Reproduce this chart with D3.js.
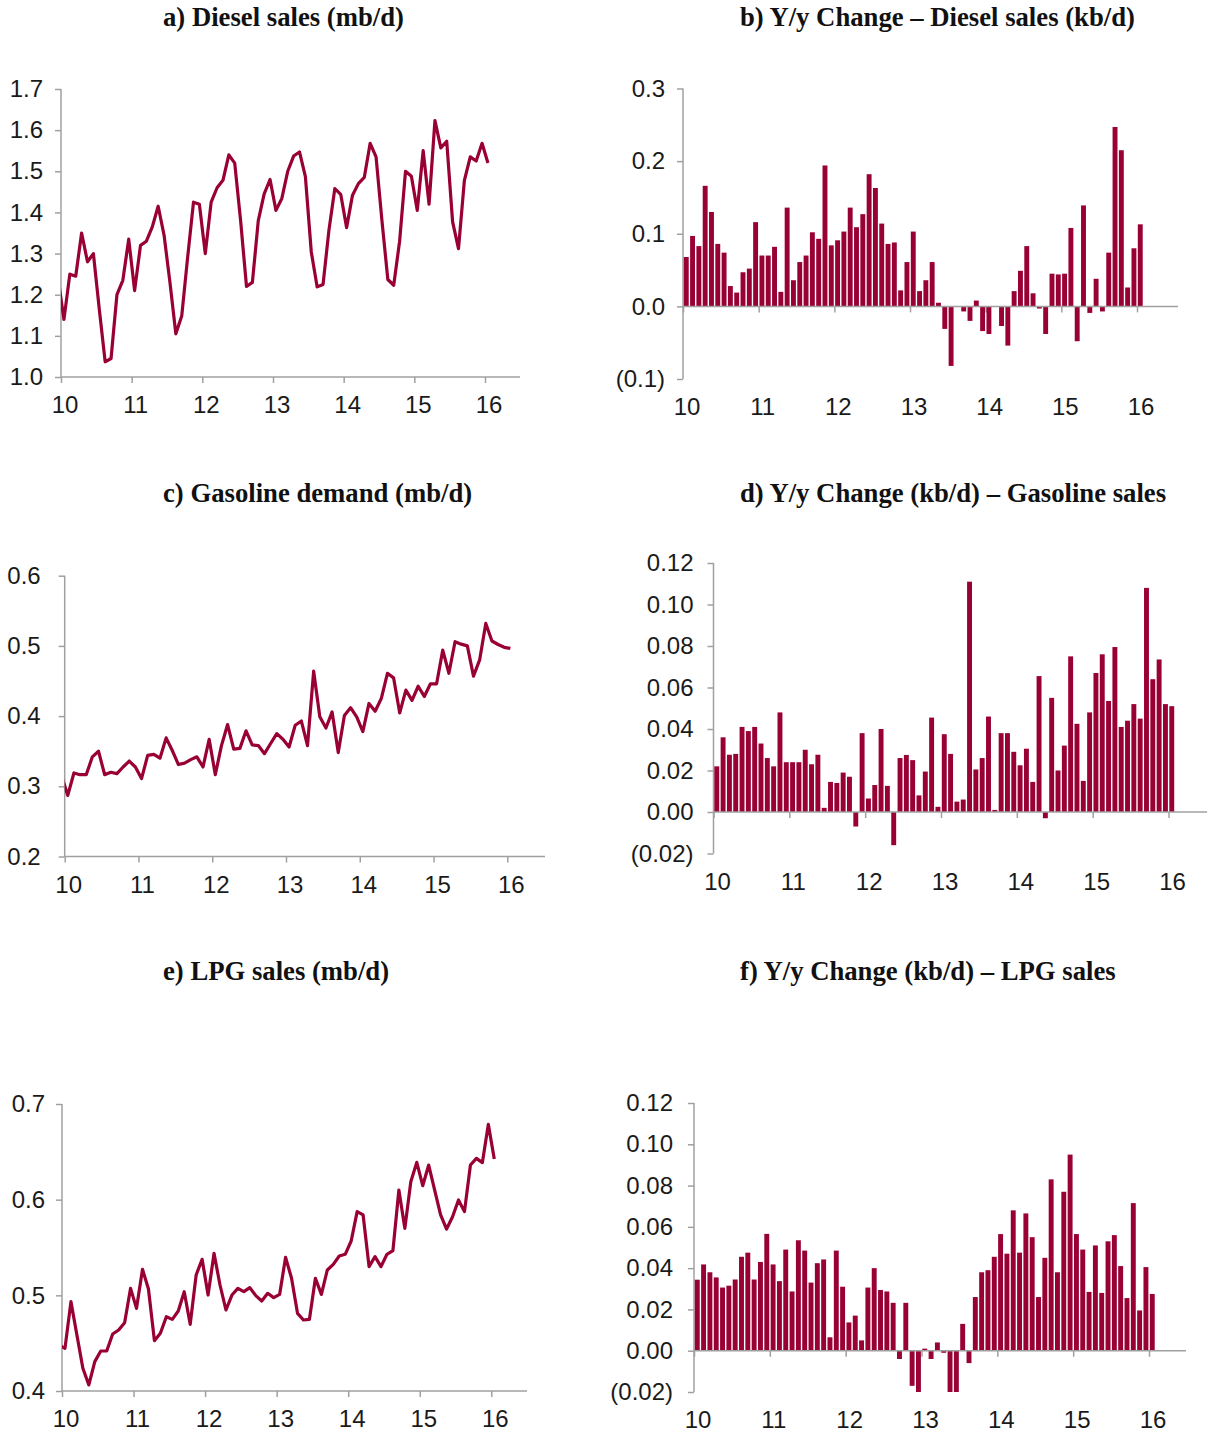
<!DOCTYPE html>
<html>
<head>
<meta charset="utf-8">
<script src="https://cdn.jsdelivr.net/npm/d3@7"></script>
<style>
  body { margin: 0; background: #fff; }
  .tick text, .lbl { font-family: "Liberation Sans", Arial, sans-serif; fill: #1a1a1a; }
  .title { font-family: "Liberation Serif", "Times New Roman", serif; font-weight: bold; fill: #111; }
</style>
</head>
<body>
<svg id="chart" width="1209" height="1433"></svg>
<script>
// x axis labels (years, 20xx)
const yearLabels = [10, 11, 12, 13, 14, 15, 16];

// monthly levels, Dec-09 .. Jan-16 (first point sits left of the axis and is clipped)
const dieselSales = [1.24,
  1.14, 1.25, 1.245, 1.35, 1.28, 1.30, 1.165, 1.037, 1.045, 1.20, 1.235, 1.335,
  1.21, 1.32, 1.33, 1.365, 1.415, 1.345, 1.23, 1.105, 1.148, 1.29, 1.425, 1.42,
  1.30, 1.425, 1.46, 1.478, 1.54, 1.52, 1.38, 1.22, 1.23, 1.38, 1.445, 1.48,
  1.405, 1.434, 1.50, 1.537, 1.547, 1.487, 1.304, 1.219, 1.225, 1.357, 1.458, 1.444,
  1.363, 1.442, 1.47, 1.485, 1.568, 1.535, 1.38, 1.237, 1.223, 1.33, 1.50, 1.488,
  1.405, 1.55, 1.42, 1.623, 1.557, 1.573, 1.377, 1.312, 1.478, 1.535, 1.525, 1.568,
  1.52];

const gasolineDemand = [0.315,
  0.287, 0.319, 0.3165, 0.3165, 0.342, 0.350, 0.3165, 0.32, 0.318, 0.3275, 0.336, 0.3275,
  0.311, 0.344, 0.3455, 0.340, 0.369, 0.351, 0.331, 0.333, 0.338, 0.342, 0.3275, 0.367,
  0.3165, 0.358, 0.388, 0.353, 0.354, 0.379, 0.359, 0.358, 0.3465, 0.361, 0.375, 0.367,
  0.356, 0.387, 0.393, 0.358, 0.464, 0.399, 0.383, 0.406, 0.348, 0.401, 0.412, 0.399,
  0.378, 0.418, 0.407, 0.425, 0.461, 0.4545, 0.4045, 0.437, 0.4225, 0.4425, 0.428, 0.446,
  0.446, 0.494, 0.461, 0.506, 0.5025, 0.500, 0.457, 0.480, 0.532, 0.507, 0.502, 0.498,
  0.4965];

const lpgSales = [0.448,
  0.4446, 0.4934, 0.4585, 0.4237, 0.4063, 0.4307, 0.4418, 0.4418, 0.4596, 0.4638, 0.4714, 0.5073,
  0.4864, 0.5272, 0.5066, 0.4526, 0.4603, 0.4777, 0.4749, 0.4836, 0.5038, 0.4697, 0.5213, 0.5376,
  0.5003, 0.5439, 0.5108, 0.4847, 0.5003, 0.5073, 0.5038, 0.508, 0.4997, 0.4941, 0.5021, 0.4976,
  0.501, 0.5397, 0.5178, 0.4812, 0.4742, 0.4749, 0.5178, 0.501, 0.5265, 0.5324, 0.5411, 0.5429,
  0.5568, 0.5875, 0.584, 0.53, 0.5404, 0.53, 0.5429, 0.5467, 0.6101, 0.57, 0.6188, 0.639,
  0.6146, 0.6362, 0.6101, 0.584, 0.5693, 0.5822, 0.5997, 0.5875, 0.6362, 0.6432, 0.6387, 0.6787,
  0.6425];

// monthly y/y changes, Jan-10 .. Jan-16
const dieselYoY = [
  0.068, 0.097, 0.083, 0.166, 0.130, 0.086, 0.074, 0.028, 0.019, 0.047, 0.052, 0.116,
  0.070, 0.070, 0.082, 0.020, 0.136, 0.036, 0.061, 0.070, 0.102, 0.093, 0.194, 0.084,
  0.091, 0.103, 0.136, 0.109, 0.127, 0.182, 0.163, 0.114, 0.086, 0.088, 0.022, 0.061,
  0.103, 0.021, 0.036, 0.061, 0.005, -0.031, -0.082, 0.000, -0.007, -0.020, 0.008, -0.034,
  -0.038, 0.000, -0.027, -0.054, 0.021, 0.049, 0.083, 0.018, -0.003, -0.038, 0.045, 0.044,
  0.045, 0.108, -0.048, 0.139, -0.009, 0.038, -0.007, 0.074, 0.247, 0.215, 0.026, 0.080,
  0.113];

const gasolineYoY = [
  0.022, 0.036, 0.0276, 0.028, 0.041, 0.039, 0.041, 0.033, 0.026, 0.022, 0.048, 0.024,
  0.024, 0.024, 0.030, 0.023, 0.0276, 0.002, 0.0145, 0.014, 0.019, 0.017, -0.007, 0.038,
  0.0065, 0.013, 0.040, 0.0126, -0.016, 0.026, 0.0275, 0.025, 0.008, 0.0195, 0.0455, 0.0025,
  0.0375, 0.028, 0.005, 0.006, 0.111, 0.0205, 0.026, 0.046, 0.001, 0.038, 0.038, 0.029,
  0.0225, 0.0305, 0.0145, 0.0655, -0.003, 0.055, 0.020, 0.032, 0.075, 0.0425, 0.015, 0.048,
  0.067, 0.076, 0.0535, 0.0795, 0.041, 0.044, 0.052, 0.045, 0.108, 0.064, 0.0735, 0.052,
  0.051];

const lpgYoY = [
  0.0344, 0.0418, 0.038, 0.0355, 0.0306, 0.0315, 0.0345, 0.0455, 0.0475, 0.0345, 0.043, 0.0566,
  0.0418, 0.0337, 0.049, 0.0287, 0.0535, 0.0485, 0.033, 0.0424, 0.0442, 0.0065, 0.0485, 0.031,
  0.0137, 0.017, 0.005, 0.0306, 0.040, 0.0294, 0.0287, 0.0232, -0.004, 0.0232, -0.017, -0.02,
  0.001, -0.004, 0.004, -0.001, -0.02, -0.02, 0.013, -0.006, 0.026, 0.038, 0.039, 0.0455,
  0.0565, 0.047, 0.068, 0.0475, 0.0665, 0.055, 0.026, 0.045, 0.083, 0.038, 0.077, 0.095,
  0.0565, 0.049, 0.0285, 0.051, 0.028, 0.053, 0.056, 0.041, 0.0255, 0.0715, 0.0195, 0.0405,
  0.0275];

// y tick values
const ticksA = [1.0, 1.1, 1.2, 1.3, 1.4, 1.5, 1.6, 1.7];
const ticksB = [-0.1, 0.0, 0.1, 0.2, 0.3];
const ticksC = [0.2, 0.3, 0.4, 0.5, 0.6];
const ticksD = [-0.02, 0.00, 0.02, 0.04, 0.06, 0.08, 0.10, 0.12];
const ticksE = [0.4, 0.5, 0.6, 0.7];
const ticksF = [-0.02, 0.00, 0.02, 0.04, 0.06, 0.08, 0.10, 0.12];

const COLOR = "#990033";
const AXIS = "#a0a0a0";

const svg = d3.select("#chart");

function numFmt(dec) {
    const f = d3.format("." + dec + "f");
    return d => d < -1e-9 ? "(" + f(-d) + ")" : f(Math.abs(d));
}

const panels = [
    { title: "a) Diesel sales (mb/d)", tx: 163, ty: 26, type: "line", data: dieselSales,
      x0: 61, x1: 485, xEnd: 520, yTop: 89, yBot: 377, ticks: ticksA, dec: 1, pad: 12 },
    { title: "b) Y/y Change \u2013 Diesel sales (kb/d)", tx: 740, ty: 26, type: "bar", data: dieselYoY,
      x0: 683, x1: 1137, xEnd: 1178, yTop: 88.5, yBot: 379, ticks: ticksB, dec: 1, pad: 12 },
    { title: "c) Gasoline demand (mb/d)", tx: 163, ty: 502, type: "line", data: gasolineDemand,
      x0: 64.7, x1: 507.3, xEnd: 545, yTop: 575.7, yBot: 856.5, ticks: ticksC, dec: 1, pad: 18 },
    { title: "d) Y/y Change (kb/d) \u2013 Gasoline sales", tx: 740, ty: 502, type: "bar", data: gasolineYoY,
      x0: 713.5, x1: 1168.5, xEnd: 1207, yTop: 563, yBot: 853.5, ticks: ticksD, dec: 2, pad: 14 },
    { title: "e) LPG sales (mb/d)", tx: 163, ty: 980, type: "line", data: lpgSales,
      x0: 62, x1: 491.3, xEnd: 527, yTop: 1104, yBot: 1391, ticks: ticksE, dec: 1, pad: 11 },
    { title: "f) Y/y Change (kb/d) \u2013 LPG sales", tx: 740, ty: 980, type: "bar", data: lpgYoY,
      x0: 694, x1: 1149, xEnd: 1186, yTop: 1103, yBot: 1392, ticks: ticksF, dec: 2, pad: 15 }
];

panels.forEach((p, k) => {
    const g = svg.append("g");

    g.append("text")
        .attr("class", "title")
        .attr("x", p.tx)
        .attr("y", p.ty)
        .style("font-size", "26.7px")
        .text(p.title);

    const x = d3.scaleLinear().domain([10, 16]).range([p.x0, p.x1]);
    const y = d3.scaleLinear()
        .domain([p.ticks[0], p.ticks[p.ticks.length - 1]])
        .range([p.yBot, p.yTop]);

    // y axis
    const yAxis = g.append("g")
        .attr("transform", `translate(${p.x0},0)`)
        .call(d3.axisLeft(y).tickValues(p.ticks).tickFormat(numFmt(p.dec)).tickSize(6).tickPadding(p.pad));
    yAxis.select(".domain").remove();
    yAxis.selectAll("line").attr("stroke", AXIS).attr("stroke-width", 1.5);
    yAxis.selectAll("text").style("font-size", "24px");
    g.append("line")
        .attr("x1", p.x0).attr("x2", p.x0)
        .attr("y1", p.yTop).attr("y2", p.yBot)
        .attr("stroke", AXIS).attr("stroke-width", 1.5);

    // x axis: tick marks on the baseline (zero for bars), labels at the bottom
    const baseY = p.type === "bar" ? y(0) : p.yBot;
    const xAxis = g.append("g")
        .attr("transform", `translate(0,${baseY})`)
        .call(d3.axisBottom(x).tickValues(yearLabels).tickFormat("").tickSize(6));
    xAxis.select(".domain").remove();
    xAxis.selectAll("line").attr("stroke", AXIS).attr("stroke-width", 1.5);

    g.selectAll(".xlbl")
        .data(yearLabels)
        .enter()
        .append("text")
        .attr("class", "lbl")
        .attr("x", d => x(d) + 4)
        .attr("y", p.yBot + 28)
        .attr("dy", "0.35em")
        .attr("text-anchor", "middle")
        .style("font-size", "24px")
        .text(d => d);

    if (p.type === "line") {
        g.append("clipPath")
            .attr("id", "clip" + k)
            .append("rect")
            .attr("x", p.x0).attr("y", p.yTop - 20)
            .attr("width", p.xEnd - p.x0).attr("height", p.yBot - p.yTop + 40);

        const line = d3.line()
            .x((d, i) => x(10 + (i - 0.5) / 12))
            .y(d => y(d));

        g.append("path")
            .attr("clip-path", `url(#clip${k})`)
            .attr("d", line(p.data))
            .attr("fill", "none")
            .attr("stroke", COLOR)
            .attr("stroke-width", 3.2)
            .attr("stroke-linejoin", "round");
    } else {
        const w = x(10 + 1 / 12) - x(10);
        g.selectAll(".bar")
            .data(p.data)
            .enter()
            .append("rect")
            .attr("x", (d, i) => x(10 + i / 12) + 0.8)
            .attr("width", w - 1.4)
            .attr("y", d => y(Math.max(0, d)))
            .attr("height", d => Math.abs(y(d) - y(0)))
            .attr("fill", COLOR);
    }

    // baseline drawn over the marks
    g.append("line")
        .attr("x1", p.x0).attr("x2", p.xEnd)
        .attr("y1", baseY).attr("y2", baseY)
        .attr("stroke", AXIS).attr("stroke-width", 1.5);
});
</script>
</body>
</html>
